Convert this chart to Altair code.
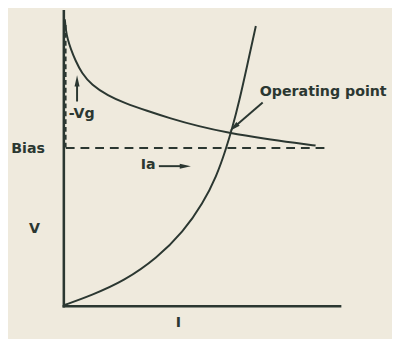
import altair as alt
import pandas as pd

# Drawing units: I grows to the right from the origin, V grows upward.
rise_i = [0, 28, 62, 95, 122, 142, 156, 165, 172, 179, 187, 196]
rise_v = [1, 11, 26, 49, 76, 105, 133, 159, 182, 209, 245, 286]

fall_i = [1.0, 2, 4, 7, 11.7, 18.3, 28.3, 45, 62, 85, 108, 138, 168, 205, 238, 257]
fall_v = [293, 282, 272, 263, 251, 238, 226, 215, 207.5, 199.5, 192, 183.5, 177, 171, 166.5, 164]

bias_v = 161.5
bias_i_end = 272

axis_v_top = 301
axis_i_end = 282

labels = ["Operating point", "-Vg", "Bias", "Ia", "V", "I"]
label_i = [200, 5, -36.5, 86, -30, 117]
label_v = [219, 196, 160, 144, 79, -17]
label_align = ["left", "left", "center", "center", "center", "center"]

INK = "#2b3731"
BG = "#efeadd"
FONT = "DejaVu Sans"

xs = alt.Scale(domain=[-57, 335], nice=False, zero=False)
ys = alt.Scale(domain=[-30, 301], nice=False, zero=False)


def X(f):
    return alt.X(f, type="quantitative", scale=xs, axis=None)


def Y(f):
    return alt.Y(f, type="quantitative", scale=ys, axis=None)


rise = pd.DataFrame({"i": rise_i, "v": rise_v, "o": range(len(rise_i))})
fall = pd.DataFrame({"i": fall_i, "v": fall_v, "o": range(len(fall_i))})

rise_line = alt.Chart(rise).mark_line(color=INK, strokeWidth=2, interpolate="basis").encode(
    x=X("i"), y=Y("v"), order="o:Q")
fall_line = alt.Chart(fall).mark_line(color=INK, strokeWidth=2, interpolate="basis").encode(
    x=X("i"), y=Y("v"), order="o:Q")

axes = pd.DataFrame({"i": [0, 0], "v": [0, 0], "i2": [0, axis_i_end], "v2": [axis_v_top, 0]})
axis_rules = alt.Chart(axes).mark_rule(color=INK, strokeWidth=2.6, strokeCap="square").encode(
    x=X("i"), y=Y("v"), x2="i2", y2="v2")

bias = pd.DataFrame({"i": [2], "v": [bias_v], "i2": [bias_i_end], "v2": [bias_v]})
bias_rule = alt.Chart(bias).mark_rule(color=INK, strokeWidth=2, strokeDash=[9, 6]).encode(
    x=X("i"), y=Y("v"), x2="i2", y2="v2")

vg = pd.DataFrame({"i": [2.0], "v": [162], "i2": [2.0], "v2": [287]})
vg_rule = alt.Chart(vg).mark_rule(color=INK, strokeWidth=1.6, strokeDash=[5, 3]).encode(
    x=X("i"), y=Y("v"), x2="i2", y2="v2")

arrows = pd.DataFrame({
    "i": [203, 13.5, 97],
    "v": [208, 209, 143],
    "i2": [174, 13.5, 123],
    "v2": [183, 229, 143],
})
arrow_rules = alt.Chart(arrows).mark_rule(color=INK, strokeWidth=2).encode(
    x=X("i"), y=Y("v"), x2="i2", y2="v2")

heads = pd.DataFrame({"i": [173.5, 13.5, 124], "v": [182.5, 230, 143], "a": [229, 0, 90]})
arrow_heads = alt.Chart(heads).mark_point(
    shape="M0,-1L0.45,1L-0.45,1Z", filled=True, color=INK, size=130, opacity=1
).encode(x=X("i"), y=Y("v"), angle=alt.Angle("a:Q", scale=None))

lab = pd.DataFrame({"t": labels, "i": label_i, "v": label_v, "al": label_align})
left_text = alt.Chart(lab[lab.al == "left"]).mark_text(
    align="left", baseline="middle", font=FONT, fontSize=14.5, fontWeight="bold", color=INK
).encode(x=X("i"), y=Y("v"), text="t:N")
center_text = alt.Chart(lab[lab.al == "center"]).mark_text(
    align="center", baseline="middle", font=FONT, fontSize=14.5, fontWeight="bold", color=INK
).encode(x=X("i"), y=Y("v"), text="t:N")

chart = alt.layer(
    axis_rules, bias_rule, vg_rule, fall_line, rise_line, arrow_rules, arrow_heads,
    left_text, center_text
).properties(
    width=392, height=331, padding=0, autosize="none", background=BG
).configure_view(stroke=None)

chart.save("out.html", embed_options={"renderer": "svg", "actions": False})
